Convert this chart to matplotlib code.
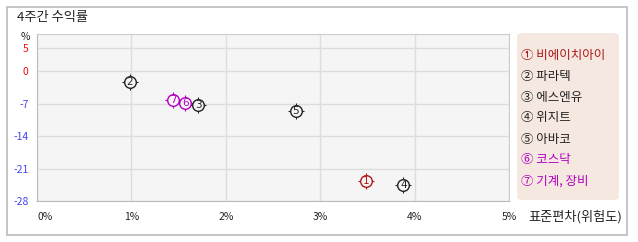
import numpy as np
import matplotlib.pyplot as plt
from matplotlib.patches import Rectangle, FancyBboxPatch

plt.rcParams['font.family'] = ['Noto Sans CJK KR', 'DejaVu Sans']

names = ['비에이치아이', '파라텍', '에스엔유', '위지트', '아바코', '코스닥', '기계, 장비']
marks = ['①', '②', '③', '④', '⑤', '⑥', '⑦']
risk = [3.49, 0.98, 1.71, 3.88, 2.74, 1.57, 1.44]      # 표준편차 (%)
ret4w = [-23.6, -2.3, -7.4, -24.5, -8.5, -6.8, -6.3]   # 4주간 수익률 (%)
colors = ['#b01818', '#222222', '#222222', '#222222', '#222222', '#b000c0', '#b000c0']
yticks = [5, 0, -7, -14, -21, -28]
xticks = [0, 1, 2, 3, 4, 5]

fig = plt.figure(figsize=(6.38, 2.42), dpi=100)
fig.patches.append(Rectangle((7/638, 1-235/242), 620/638, 228/242, transform=fig.transFigure,
                             fill=False, ec='#bbbbbb', lw=1.2))
fig.text(17/638, 1-18/242, '4주간 수익률', fontsize=9.5, va='center', ha='left', color='#222222')
fig.text(25/638, 1-37/242, '%', fontsize=7.5, va='center', ha='center', color='#222222')

ax = fig.add_axes([37/638, 1-201/242, 472/638, 167/242])
ax.set_facecolor('#f5f5f5')
ax.set_xlim(0, 5)
ax.set_ylim(-28, 8)
ax.set_xticks(xticks)
ax.set_xticklabels([f'{v}%' for v in xticks])
ax.set_yticks(yticks)
ax.set_yticklabels([str(v) for v in yticks])
ax.grid(True, color='#dddddd', lw=1)
ax.set_axisbelow(True)
for s in ax.spines.values():
    s.set_color('#cccccc')
ax.spines['left'].set_color('#bbbbbb')
ax.spines['bottom'].set_color('#bbbbbb')
ax.tick_params(length=0, labelsize=7.5, colors='#222222')
ax.tick_params(axis='x', pad=8)
ax.tick_params(axis='y', pad=6)
for lbl, v in zip(ax.get_yticklabels(), yticks):
    lbl.set_color('#ee1111' if v >= 0 else '#4444ee')
ax.get_xticklabels()[0].set_horizontalalignment('left')

for i in range(len(names)):
    ax.scatter(risk[i], ret4w[i], s=120, marker='+', color=colors[i], lw=0.8, zorder=3)
    ax.scatter(risk[i], ret4w[i], s=70, marker='o', facecolor='#f5f5f5',
               edgecolor=colors[i], lw=1, zorder=4)
    ax.text(risk[i], ret4w[i], str(i + 1), fontsize=7.5, color=colors[i],
            ha='center', va='center', zorder=5, family='DejaVu Sans')

fig.text(528/638, 1-217/242, '표준편차(위험도)', fontsize=9.5, va='center', ha='left', color='#222222')

# legend box
fig.patches.append(FancyBboxPatch((517/638, 1-200/242), 102/638, 167/242,
                                  boxstyle='round,pad=0,rounding_size=0.012',
                                  transform=fig.transFigure, fc='#f5e8e0', ec='none'))
for i in range(len(names)):
    fig.text(521/638, 1-(55 + 21*i)/242, f'{marks[i]} {names[i]}', fontsize=9,
             va='center', ha='left', color=colors[i])

fig.savefig('out.png', dpi=100)
